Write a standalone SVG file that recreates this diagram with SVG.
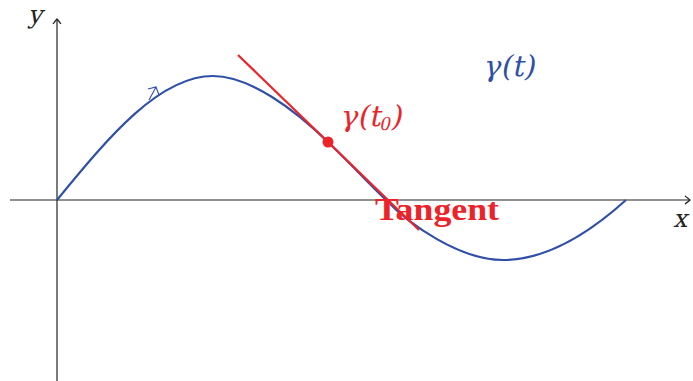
<svg xmlns="http://www.w3.org/2000/svg" width="693" height="381" viewBox="0 0 693 381">
<style>
.axis{stroke:#222;stroke-width:1.2;fill:none}
.curve{stroke:#3050a8;stroke-width:2.2;fill:none}
.tan{stroke:#ec2329;stroke-width:2.2;fill:none}
.math{font-family:"DejaVu Serif","Liberation Serif",serif}
.blue{fill:#3050a8}
.red{fill:#ec2329}
</style>
<defs>
<marker id="ah" viewBox="-6 -5 8 10" markerWidth="8" markerHeight="10" refX="0" refY="0" orient="auto" markerUnits="userSpaceOnUse">
<path d="M-5,-4 Q-1,-1 0,0 Q-1,1 -5,4" fill="none" stroke="#222" stroke-width="1.2"/>
</marker>
</defs>
<g id="axes">
<line class="axis" x1="10" y1="200" x2="690" y2="200" marker-end="url(#ah)"/>
<line class="axis" x1="57" y1="381" x2="57" y2="19" marker-end="url(#ah)"/>
<text class="math" transform="translate(28,23) skewX(-14)" font-size="25" fill="#222">y</text>
<text class="math" transform="translate(673,227) skewX(-14)" font-size="25" fill="#222">x</text>
</g>
<g id="curve">
<path class="curve" d="M57,200 C110,135 160,76 213,76 C250,76 295,110 328,142 C350,163 370,185 386,200 C410,225 460,260 503,260 C550,260 595,228 626,200"/>
<path d="M149,100 L156,87 M148,89 L156,87 L159,95" fill="none" stroke="#3050a8" stroke-width="1.1"/>
<text class="math blue" transform="translate(483,76) skewX(-12)" font-size="29">γ(t)</text>
</g>
<g id="connectors">
<line class="tan" x1="238" y1="55" x2="419" y2="230"/>
</g>
<g id="point">
<circle cx="328" cy="142" r="5.5" fill="#ec2329"/>
<text class="math red" transform="translate(340,126) skewX(-12)" font-size="29">γ(t<tspan font-size="20" dy="4" font-family="Liberation Serif">0</tspan><tspan dy="-4">)</tspan></text>
</g>
<g id="label">
<text x="375" y="220" font-family="Liberation Serif, serif" font-weight="bold" font-size="31" textLength="124" lengthAdjust="spacingAndGlyphs" class="red">Tangent</text>
</g>
</svg>
